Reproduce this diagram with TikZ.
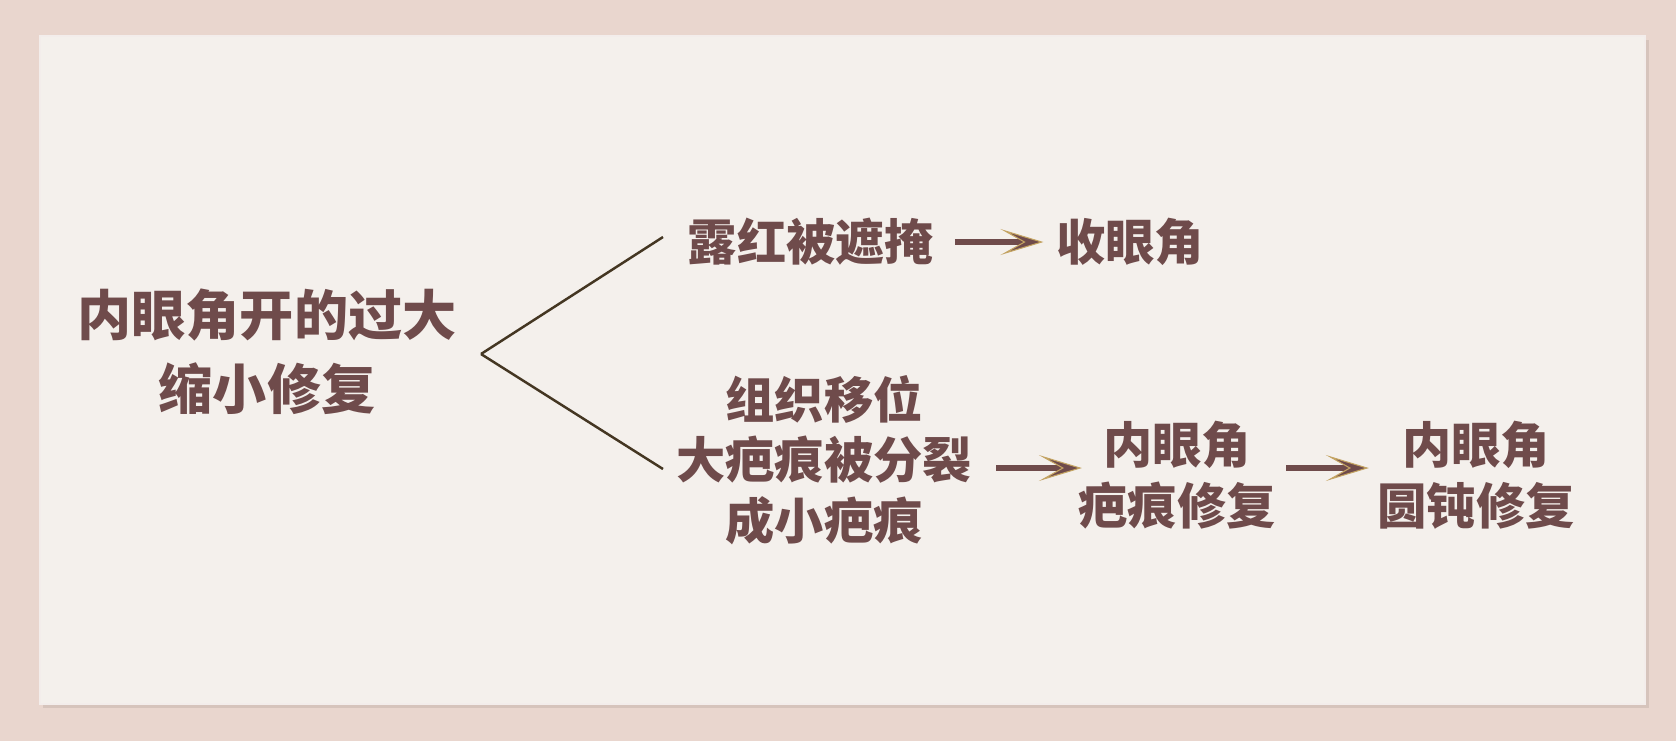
\documentclass[tikz,border=0pt]{standalone}
\usepackage{fontspec}
\newfontfamily\cjk{Noto Sans CJK SC}
\usetikzlibrary{positioning,calc,arrows.meta}
\definecolor{textbrown}{RGB}{111,75,75}
\definecolor{edgegold}{RGB}{196,164,98}
\definecolor{forkline}{RGB}{68,54,34}
\definecolor{outerpink}{RGB}{233,214,206}
\definecolor{panelwhite}{RGB}{244,240,236}
\definecolor{panelshade}{RGB}{214,196,188}
\tikzset{font=\cjk\bfseries}

\begin{document}
\begin{tikzpicture}[x=0.01cm, y=-0.01cm,
	headline/.style={align=center, font=\cjk\bfseries\fontsize{15.4}{21}\selectfont},
	leaf/.style={align=center, font=\cjk\bfseries\fontsize{14}{17.2}\selectfont},
	flow/.style={draw=textbrown, line width=1.6pt,
		-{Stealth[length=4.3mm, width=2.6mm, inset=2.3mm, fill=textbrown, color=edgegold, line width=0.3pt]}},
	branch/.style={draw=forkline, line width=0.7pt}]
	% backdrop
	\fill[outerpink] (0,0) rectangle (1676,741);
	\useasboundingbox (0,0) rectangle (1676,741);
	\fill[panelshade] (43,40) rectangle (1649,708);
	\fill[panelwhite] (40,36) rectangle (1645,704);
	\draw[white!70!panelshade, line width=0.4pt] (40,36) rectangle (1645,704);

	\begin{scope}
		\tikzstyle{every node}=[text=textbrown, inner sep=0pt]
		\node[headline] (title) at (267,352) {内眼角开的过大\\缩小修复};
		\coordinate (fork) at (481,354);
		\coordinate (upend) at (663,237);
		\coordinate (lowend) at (663,469);

		\node[leaf] (mask) at (811,242) {露红被遮掩};
		\node[leaf] (narrow) at (1130,242) {收眼角};
		\node[leaf] (split) at (824,460) {组织移位\\大疤痕被分裂\\成小疤痕};
		\node[leaf] (scar) at (1177,475) {内眼角\\疤痕修复};
		\node[leaf] (blunt) at (1476,475) {内眼角\\圆钝修复};

		\draw[branch] (fork) -- (upend);
		\draw[branch] (fork) -- (lowend);
		\draw[flow, shorten <=2mm, shorten >=1.2mm] (mask.east) -- (narrow.west);
		\draw[flow, shorten <=2.4mm, shorten >=-0.4mm] ([yshift=-0.8mm]split.east) -- ([yshift=-0.8mm]split.east -| scar.west);
		\draw[flow, shorten <=1mm, shorten >=0.8mm] ([yshift=0.7mm]scar.east) -- ([yshift=0.7mm]blunt.west);
	\end{scope}
\end{tikzpicture}
\end{document}
